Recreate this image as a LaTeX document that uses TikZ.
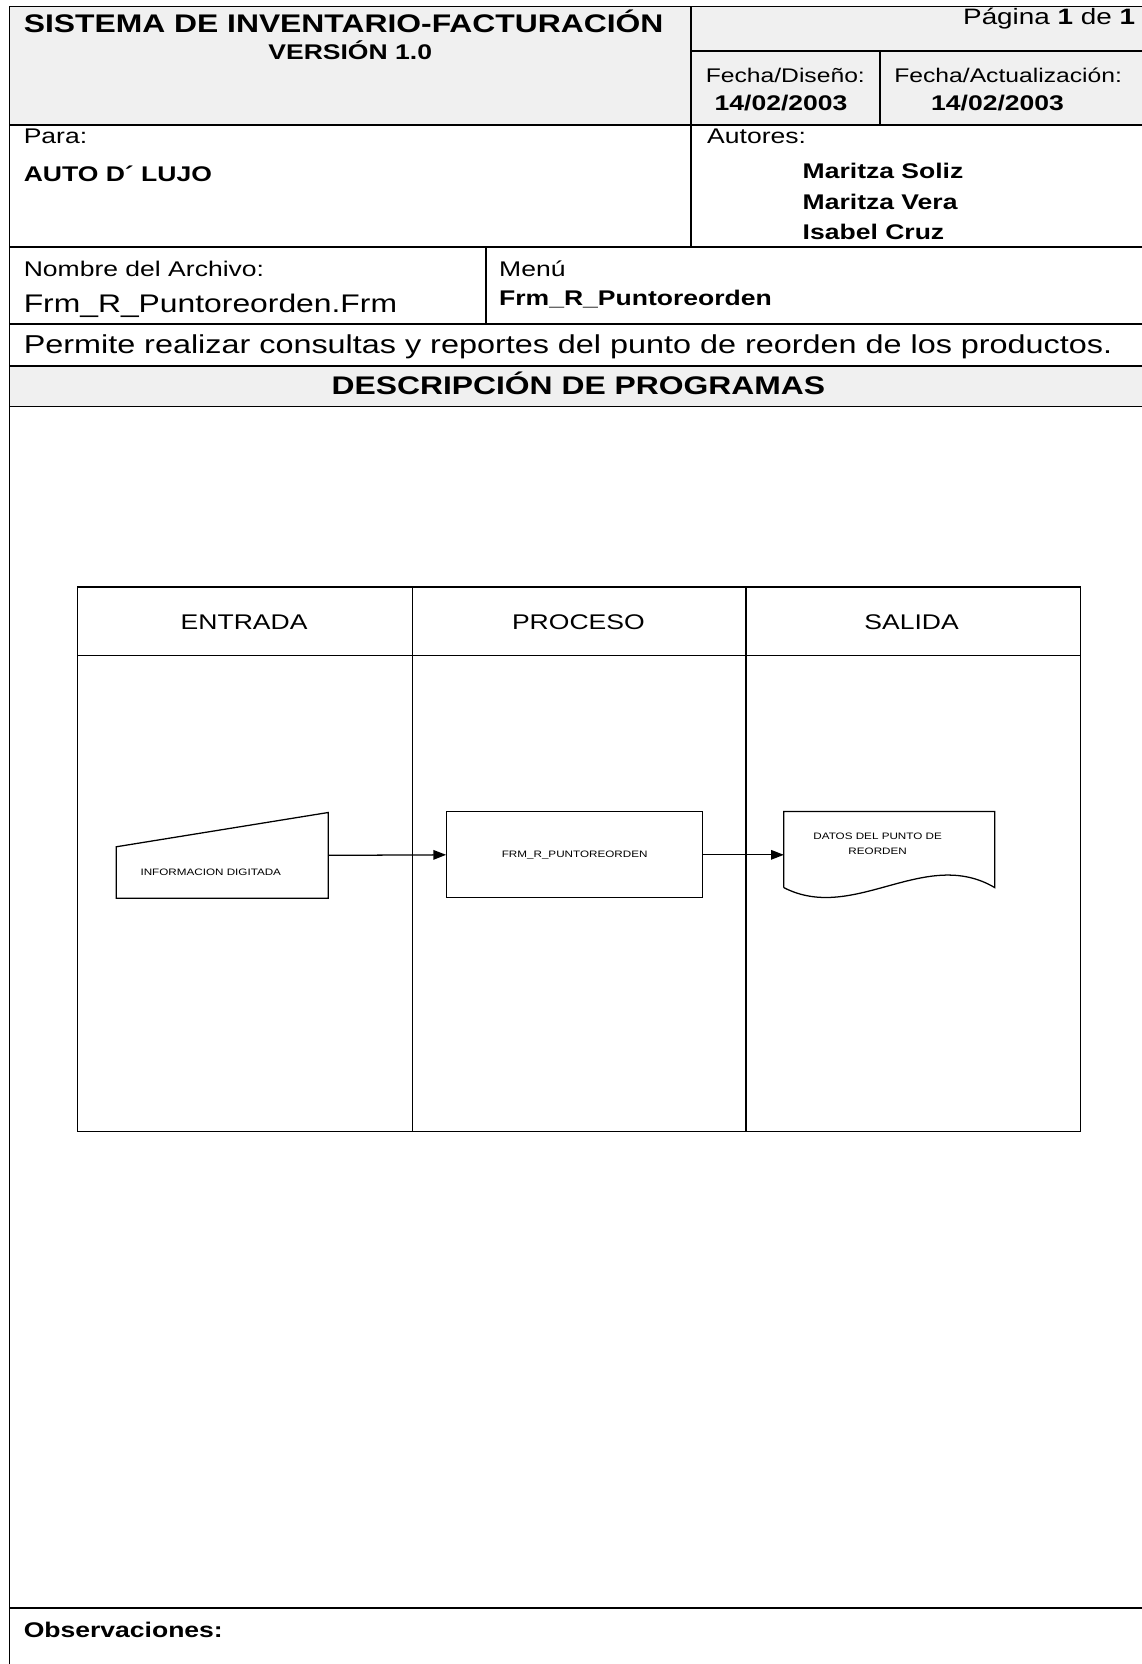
\documentclass[tikz,border=0pt]{standalone}
\usepackage{fontspec}
\setmainfont{Liberation Sans}[FakeStretch=1.25]
\usetikzlibrary{positioning,calc,arrows.meta}

\begin{document}
\begin{tikzpicture}[x=0.5pt, y=-0.5pt,
  every node/.style={inner sep=0pt},
  rule/.style={line width=0.8pt},
  lane/.style={line width=0.6pt},
  shade/.style={fill=gray!12},
  lbl/.style={anchor=base west, font=\fontsize{10}{12}\selectfont},
  blbl/.style={anchor=base west, font=\fontsize{10}{12}\selectfont\bfseries},
  big/.style={anchor=base west, font=\fontsize{12.2}{14}\selectfont},
  tiny/.style={font=\fontsize{4.4}{7}\selectfont},
  inbox/.style={minimum width=99.5pt, minimum height=40pt},
  procbox/.style={draw, lane, tiny, minimum width=120.5pt, minimum height=40.5pt},
  docbox/.style={minimum width=99pt, minimum height=35.5pt},
  flow/.style={lane, -{Triangle[length=6pt,width=4.5pt]}}
]
\useasboundingbox (0,0) rectangle (1076,1568);
\clip (0,0) rectangle (1076,1568);

% gray bands
\fill[shade] (9,6) rectangle (1090,118);
\fill[shade] (9,345) rectangle (1090,383);

% form frame and rules
\draw[rule] (1090,6) -- (9,6) -- (9,1590);
\foreach \y in {118,233,305,345,383,1515}
  \draw[rule] (9,\y) -- (1090,\y);
\draw[rule] (651,48) -- (1090,48);
\draw[rule] (651,6) -- (651,233);
\draw[rule] (829,48) -- (829,118);
\draw[rule] (458,233) -- (458,305);

% header
\node[anchor=base west, font=\fontsize{12}{14}\selectfont\bfseries] (titulo) at (22,31) {SISTEMA DE INVENTARIO-FACTURACIÓN};
\node[anchor=base, font=\fontsize{10}{12}\selectfont\bfseries] (version) at (330,56) {VERSIÓN 1.0};
\node[anchor=base east, font=\fontsize{10.5}{12}\selectfont] (pagina) at (1070,23) {Página \textbf{1} de \textbf{1}};
\node[anchor=base, font=\fontsize{9.3}{12}\selectfont] (fdis) at (740,78) {Fecha/Diseño:};
\node[anchor=base, font=\fontsize{10}{12}\selectfont\bfseries] (fdisv) at (736,104) {14/02/2003};
\node[anchor=base, font=\fontsize{9.3}{12}\selectfont] (fact) at (950,78) {Fecha/Actualización:};
\node[anchor=base, font=\fontsize{10}{12}\selectfont\bfseries] (factv) at (940,104) {14/02/2003};

% para / autores
\node[lbl] (para) at (22,135) {Para:};
\node[blbl] (cliente) at (22,171) {AUTO D´ LUJO};
\node[lbl] (autores) at (666,135) {Autores:};
\foreach \y/\n [count=\i] in {168/Maritza Soliz, 197/Maritza Vera, 226/Isabel Cruz}
  \node[blbl] (autor\i) at (756,\y) {\n};

% archivo / menu
\node[lbl] (narchivo) at (22,261) {Nombre del Archivo:};
\node[big, font=\fontsize{12}{14}\selectfont] (archivo) at (22,294) {Frm\_R\_Puntoreorden.Frm};
\node[lbl] (nmenu) at (470,261) {Menú};
\node[blbl] (menu) at (470,288) {Frm\_R\_Puntoreorden};

\node[big] (permite) at (22,333) {Permite realizar consultas y reportes del punto de reorden de los productos.};
\node[anchor=base, font=\fontsize{12}{14}\selectfont\bfseries] (desc) at (545,372) {DESCRIPCIÓN DE PROGRAMAS};
\node[blbl] (obs) at (22,1543) {Observaciones:};

% swim lanes
\draw[lane] (73,553) rectangle (1018,1066);
\draw[lane] (73,618) -- (1018,618);
\foreach \x in {389,703}
  \draw[lane] (\x,553) -- (\x,1066);
\foreach \x/\t in {230/ENTRADA, 545/PROCESO, 859/SALIDA}
  \node[font=\fontsize{10}{12}\selectfont] (h\t) at (\x,586) {\t};

% entrada (manual input)
\node[inbox] (entrada) at (209.5,806) {};
\draw[lane] (entrada.south west) -- (entrada.south east) -- (entrada.north east)
  -- ($(entrada.south west)!0.6!(entrada.north west)$) -- cycle;
\node[tiny, anchor=west] (tentrada) at (132,822) {INFORMACION DIGITADA};

% proceso
\node[procbox] (proceso) at (541.5,805.5) {FRM\_R\_PUNTOREORDEN};

% salida (document)
\node[docbox] (salida) at (838,800.5) {};
\draw[lane] (salida.south west) -- (salida.north west) -- (salida.north east) -- (salida.south east)
  .. controls ($(salida.south east)+(-66,-39)$) and ($(salida.south west)+(66,34)$) .. (salida.south west);
\node[tiny, align=center] (tsalida) at (827,795) {DATOS DEL PUNTO DE\\REORDEN};

% flechas
\draw[flow] (entrada.east) -- (proceso.west);
\draw[flow] (proceso.east) -- (proceso.east -| salida.west);
\end{tikzpicture}
\end{document}
